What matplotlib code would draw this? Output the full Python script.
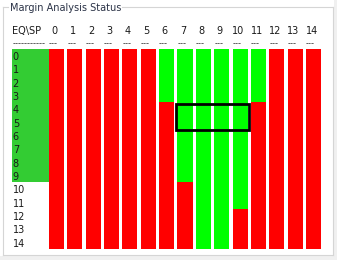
import matplotlib
matplotlib.use("Agg")
import matplotlib.pyplot as plt
from matplotlib.patches import Rectangle
import matplotlib.transforms as mtransforms

# ---------------- data ----------------
title = "Margin Analysis Status"
corner_label = "EQ\\SP"
sp_labels = ["0", "1", "2", "3", "4", "5", "6", "7", "8", "9", "10", "11", "12", "13", "14"]
eq_labels = ["0", "1", "2", "3", "4", "5", "6", "7", "8", "9", "10", "11", "12", "13", "14"]
# status of each EQ row label cell: G = green, N = none
eq_status = ["G", "G", "G", "G", "G", "G", "G", "G", "G", "G", "N", "N", "N", "N", "N"]
# cell status, one string per EQ row, one char per SP column (G = pass, R = fail)
cell_status = [
    "RRRRRRGGGGGGRRR",
    "RRRRRRGGGGGGRRR",
    "RRRRRRGGGGGGRRR",
    "RRRRRRGGGGGGRRR",
    "RRRRRRRGGGGRRRR",
    "RRRRRRRGGGGRRRR",
    "RRRRRRRGGGGRRRR",
    "RRRRRRRGGGGRRRR",
    "RRRRRRRGGGGRRRR",
    "RRRRRRRGGGGRRRR",
    "RRRRRRRRGGGRRRR",
    "RRRRRRRRGGGRRRR",
    "RRRRRRRRGGRRRRR",
    "RRRRRRRRGGRRRRR",
    "RRRRRRRRGGRRRRR",
]
highlight_rows = [4, 5]
highlight_cols = [7, 8, 9, 10]

# ---------------- style ----------------
W, H = 337, 260
colors = {"G": "#00ff00", "R": "#ff0000"}
label_green = "#33cc33"
text_color = "#1a1a1a"
title_color = "#2b3347"
border_color = "#d5d5d5"
FONT = "DejaVu Sans"
fs = 7.0

fig = plt.figure(figsize=(W / 100, H / 100), dpi=100)
fig.patch.set_facecolor("white")

def px_axes(x0, y0, x1, y1):
    return fig.add_axes([x0 / W, 1 - y1 / H, (x1 - x0) / W, (y1 - y0) / H])

# background / group box in pixel coordinates
bg = px_axes(0, 0, W, H)
bg.set_xlim(0, W)
bg.set_ylim(H, 0)
bg.axis("off")
bg.add_patch(Rectangle((334, 0), 3, H, color="#f0f0f0", lw=0))
bg.add_patch(Rectangle((0, 256), W, 4, color="#f0f0f0", lw=0))
bg.plot([3, 3], [7, 255], color=border_color, lw=0.8)
bg.plot([333, 333], [7, 255], color=border_color, lw=0.8)
bg.plot([3, 333], [255, 255], color=border_color, lw=0.8)
bg.plot([3, 8], [7, 7], color=border_color, lw=0.8)
bg.plot([122, 333], [7, 7], color=border_color, lw=0.8)
bg.text(10.5, 11.2, title, family=FONT, fontsize=fs, color=title_color,
        ha="left", va="baseline")

# grid axes: column i spans [i-0.5, i+0.5], row j spans [j-0.5, j+0.5]
n_cols = len(sp_labels)
n_rows = len(eq_labels)
ax = px_axes(47.3, 49, 322.7, 249)
ax.set_xlim(-0.5, n_cols - 0.5)
ax.set_ylim(n_rows - 0.5, -0.5)
ax.axis("off")

bar_w = 0.82
for c in range(n_cols):
    r = 0
    while r < n_rows:
        s = cell_status[r][c]
        r2 = r
        while r2 + 1 < n_rows and cell_status[r2 + 1][c] == s:
            r2 += 1
        ax.bar(c, r2 - r + 1, bottom=r - 0.5, width=bar_w, color=colors[s],
               linewidth=0)
        r = r2 + 1

# highlight box
hx0 = min(highlight_cols) - 0.47
hx1 = max(highlight_cols) + 0.46
hy0 = min(highlight_rows) - 0.4
hy1 = max(highlight_rows) + 0.6
ax.add_patch(Rectangle((hx0, hy0), hx1 - hx0, hy1 - hy0, fill=False,
                       edgecolor="black", lw=2.0, clip_on=False))

# column headers and dashes
for c, lab in enumerate(sp_labels):
    ax.text(c - 0.1, -1.66, lab, family=FONT, fontsize=fs, color=text_color,
            ha="center", va="baseline", clip_on=False)
    ax.text(c - 0.17, -0.72, "---", family=FONT, fontsize=6, color="#333333",
            ha="center", va="baseline", clip_on=False)

# EQ label column
lab_ax = px_axes(12, 49, 49, 249)
lab_ax.set_xlim(0, 1)
lab_ax.set_ylim(n_rows - 0.5, -0.5)
lab_ax.axis("off")
r = 0
while r < n_rows:
    s = eq_status[r]
    r2 = r
    while r2 + 1 < n_rows and eq_status[r2 + 1] == s:
        r2 += 1
    if s == "G":
        lab_ax.bar(0, r2 - r + 1, bottom=r - 0.5, width=1, align="edge",
                   color=label_green, linewidth=0)
    r = r2 + 1

row_tr = mtransforms.offset_copy(lab_ax.transData, fig=fig, x=0, y=-4.3, units="dots")
for j, lab in enumerate(eq_labels):
    lab_ax.text(0.02, j, lab, family=FONT, fontsize=fs, color=text_color,
                ha="left", va="baseline", transform=row_tr, clip_on=False)

lab_ax.text(0.01, -1.66, corner_label, family=FONT, fontsize=fs, color=text_color,
            ha="left", va="baseline", clip_on=False)
lab_ax.text(0.46, -0.72, "-----------", family=FONT, fontsize=6, color="#333333",
            ha="center", va="baseline", clip_on=False)

fig.savefig("out.png", dpi=100, facecolor=fig.get_facecolor())
